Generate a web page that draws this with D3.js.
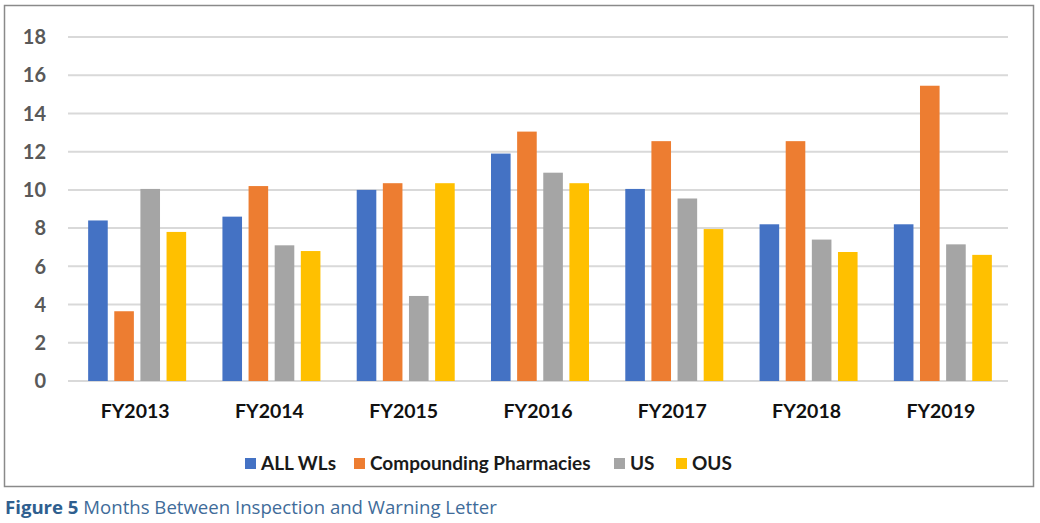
<!DOCTYPE html>
<html>
<head>
<meta charset="utf-8">
<script src="https://cdn.jsdelivr.net/npm/d3@7"></script>
<style>
  body { margin: 0; background: #fff; }
  svg text { font-family: Lato, "Open Sans", sans-serif; }
</style>
</head>
<body>
<script>
// months between inspection and warning letter, by fiscal year
var years = ["FY2013", "FY2014", "FY2015", "FY2016", "FY2017", "FY2018", "FY2019"];
var seriesNames = ["ALL WLs", "Compounding Pharmacies", "US", "OUS"];
var allWLs   = [8.4, 8.6, 10.0, 11.9, 10.05, 8.2, 8.2];
var compound = [3.65, 10.2, 10.35, 13.05, 12.55, 12.55, 15.45];
var usVals   = [10.05, 7.1, 4.45, 10.9, 9.55, 7.4, 7.15];
var ousVals  = [7.8, 6.8, 10.35, 10.35, 7.95, 6.75, 6.6];
var yTicks = [0, 2, 4, 6, 8, 10, 12, 14, 16, 18];
var colors = ["#4472C4", "#ED7D31", "#A5A5A5", "#FFC000"];

var width = 1040, height = 523;
var svg = d3.select("body").append("svg")
    .attr("width", width)
    .attr("height", height);

// outer frame
svg.append("rect")
    .attr("x", 4.5).attr("y", 5.5)
    .attr("width", 1029).attr("height", 481)
    .attr("fill", "none")
    .attr("stroke", "#8a8a8a")
    .attr("stroke-width", 1.5);

var margin = {left: 68, right: 32, top: 37, bottom: 142};
var x = d3.scaleBand()
    .domain(years)
    .range([margin.left, width - margin.right]);
var y = d3.scaleLinear()
    .domain([0, 18])
    .range([381, 37]);

// gridlines
svg.selectAll(".grid")
    .data(yTicks)
    .enter().append("line")
    .attr("class", "grid")
    .attr("x1", margin.left).attr("x2", width - margin.right)
    .attr("y1", function(d){ return y(d); })
    .attr("y2", function(d){ return y(d); })
    .attr("stroke", "#d9d9d9")
    .attr("stroke-width", 2);

// y labels
svg.selectAll(".ylab")
    .data(yTicks)
    .enter().append("text")
    .attr("class", "ylab")
    .attr("x", 46)
    .attr("y", function(d){ return y(d); })
    .attr("dy", "0.36em")
    .attr("text-anchor", "end")
    .attr("font-size", 20)
    .attr("font-weight", "bold")
    .attr("fill", "#595959")
    .text(function(d){ return d; });

// bars
var table = years.map(function(yr, i){
    return {year: yr, values: [allWLs[i], compound[i], usVals[i], ousVals[i]]};
});
var inner = d3.scaleBand()
    .domain(d3.range(seriesNames.length))
    .range([0, 98])
    .paddingInner(0.25)
    .paddingOuter(0);

var groups = svg.selectAll(".yr")
    .data(table)
    .enter().append("g")
    .attr("class", "yr")
    .attr("transform", function(d){ return "translate(" + (x(d.year) + x.bandwidth() / 2 - 47) + ",0)"; });

groups.selectAll("rect")
    .data(function(d){ return d.values; })
    .enter().append("rect")
    .attr("x", function(d, i){ return inner(i); })
    .attr("y", function(d){ return y(d); })
    .attr("width", inner.bandwidth())
    .attr("height", function(d){ return y(0) - y(d); })
    .attr("fill", function(d, i){ return colors[i]; });

// x labels
svg.selectAll(".xlab")
    .data(years)
    .enter().append("text")
    .attr("class", "xlab")
    .attr("x", function(d){ return x(d) + x.bandwidth() / 2; })
    .attr("y", 418)
    .attr("text-anchor", "middle")
    .attr("font-size", 19.5)
    .attr("font-weight", "bold")
    .attr("fill", "#111")
    .text(function(d){ return d; });

// legend
var legendX = [245, 354, 614, 676];
var legend = svg.selectAll(".leg")
    .data(seriesNames)
    .enter().append("g")
    .attr("class", "leg")
    .attr("transform", function(d, i){ return "translate(" + legendX[i] + ",458)"; });
legend.append("rect")
    .attr("width", 11).attr("height", 11)
    .attr("fill", function(d, i){ return colors[i]; });
legend.append("text")
    .attr("x", 16).attr("y", 11.5)
    .attr("font-size", 19)
    .attr("font-weight", "bold")
    .attr("fill", "#1a1a1a")
    .text(function(d){ return d; });

// caption
var cap = svg.append("text")
    .attr("x", 5).attr("y", 514)
    .attr("font-size", 18.6)
    .style("font-family", "'Open Sans', sans-serif");
cap.append("tspan").attr("font-weight", "bold").attr("fill", "#2f5f8f").text("Figure 5");
cap.append("tspan").attr("fill", "#3f6c9a").text(" Months Between Inspection and Warning Letter");
</script>
</body>
</html>
